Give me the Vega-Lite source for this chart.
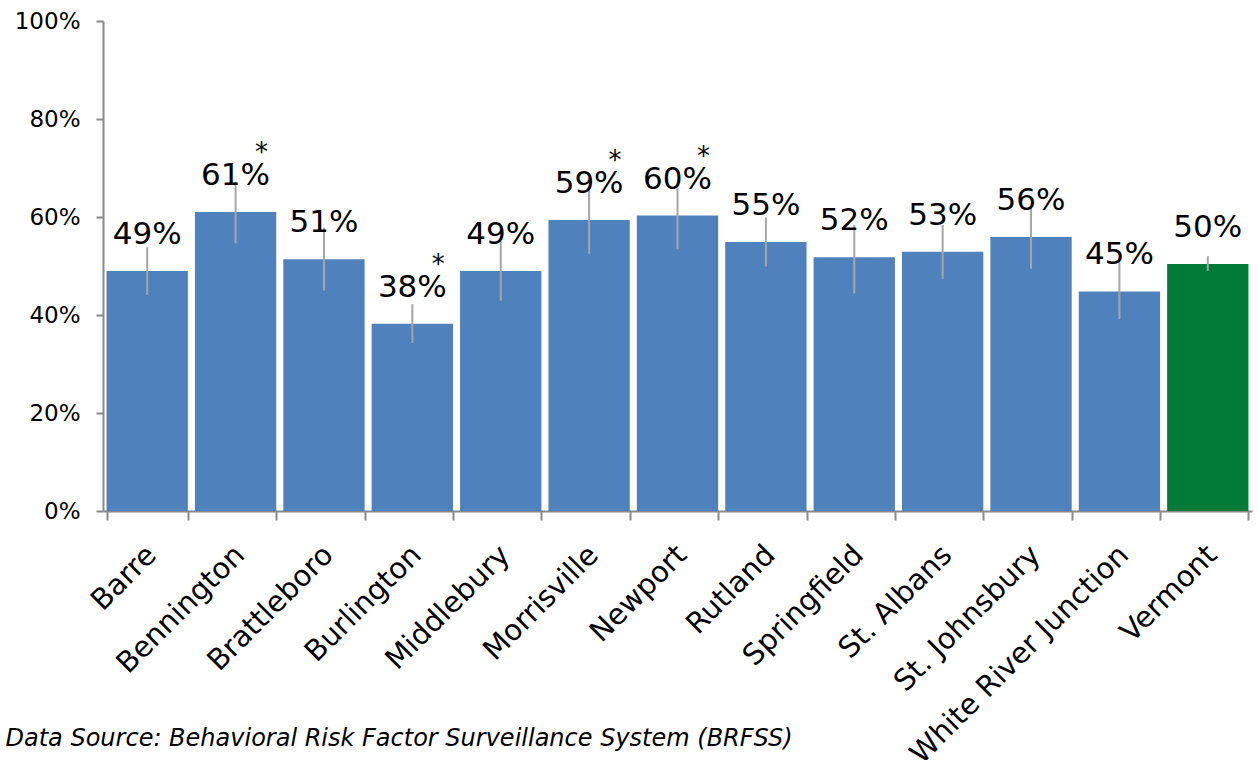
{
  "$schema": "https://vega.github.io/schema/vega-lite/v6.json",
  "width": 1149,
  "height": 490,
  "autosize": {"type": "none"},
  "padding": {"left": 103, "top": 21, "right": 5, "bottom": 249},
  "background": "white",
  "config": {"view": {"stroke": null}, "font": "DejaVu Sans"},
  "data": {
    "values": [
      {"city": "Barre", "value": 0.490, "lo": 0.441, "hi": 0.538, "star": "", "group": "region"},
      {"city": "Bennington", "value": 0.610, "lo": 0.546, "hi": 0.672, "star": "*", "group": "region"},
      {"city": "Brattleboro", "value": 0.514, "lo": 0.450, "hi": 0.578, "star": "", "group": "region"},
      {"city": "Burlington", "value": 0.382, "lo": 0.343, "hi": 0.422, "star": "*", "group": "region"},
      {"city": "Middlebury", "value": 0.490, "lo": 0.429, "hi": 0.551, "star": "", "group": "region"},
      {"city": "Morrisville", "value": 0.594, "lo": 0.525, "hi": 0.661, "star": "*", "group": "region"},
      {"city": "Newport", "value": 0.603, "lo": 0.534, "hi": 0.659, "star": "*", "group": "region"},
      {"city": "Rutland", "value": 0.549, "lo": 0.499, "hi": 0.599, "star": "", "group": "region"},
      {"city": "Springfield", "value": 0.518, "lo": 0.444, "hi": 0.584, "star": "", "group": "region"},
      {"city": "St. Albans", "value": 0.529, "lo": 0.474, "hi": 0.584, "star": "", "group": "region"},
      {"city": "St. Johnsbury", "value": 0.559, "lo": 0.494, "hi": 0.620, "star": "", "group": "region"},
      {"city": "White River Junction", "value": 0.448, "lo": 0.392, "hi": 0.509, "star": "", "group": "region"},
      {"city": "Vermont", "value": 0.504, "lo": 0.490, "hi": 0.520, "star": "", "group": "state"}
    ]
  },
  "encoding": {
    "x": {
      "field": "city",
      "type": "nominal",
      "sort": null,
      "scale": {"paddingInner": 0.08, "paddingOuter": 0.04},
      "axis": {
        "title": "Data Source: Behavioral Risk Factor Surveillance System (BRFSS)",
        "titleX": -98,
        "titleY": 227,
        "titleAlign": "left",
        "titleAnchor": "start",
        "titleBaseline": "middle",
        "titleFontStyle": "italic",
        "titleFontWeight": "normal",
        "titleFontSize": 24,
        "titleColor": "black",
        "domainColor": "#898989",
        "domainWidth": 2,
        "tickColor": "#898989",
        "tickWidth": 2,
        "tickSize": 9,
        "tickBand": "extent",
        "labelAngle": -45,
        "labelFontSize": 29,
        "labelColor": "black",
        "labelPadding": 20,
        "labelOffset": -6,
        "labelLimit": 0
      }
    }
  },
  "layer": [
    {
      "mark": {"type": "bar"},
      "encoding": {
        "y": {
          "field": "value",
          "type": "quantitative",
          "scale": {"domain": [0, 1]},
          "axis": {
            "title": null,
            "values": [0, 0.2, 0.4, 0.6, 0.8, 1],
            "format": ".0%",
            "grid": false,
            "domainColor": "#898989",
            "domainWidth": 2,
            "tickColor": "#898989",
            "tickWidth": 2,
            "tickSize": 7,
            "labelPadding": 16,
            "labelFontSize": 23,
            "labelColor": "black"
          }
        },
        "color": {
          "field": "group",
          "type": "nominal",
          "scale": {"domain": ["region", "state"], "range": ["#4F81BD", "#007A37"]},
          "legend": null
        }
      }
    },
    {
      "mark": {"type": "rule", "color": "#A6A6A6", "strokeWidth": 2},
      "encoding": {
        "y": {"field": "lo", "type": "quantitative"},
        "y2": {"field": "hi"}
      }
    },
    {
      "mark": {"type": "text", "dy": -27, "baseline": "alphabetic", "fontSize": 31, "color": "black"},
      "encoding": {
        "y": {"field": "value", "type": "quantitative"},
        "text": {"field": "value", "type": "quantitative", "format": ".0%"}
      }
    },
    {
      "transform": [{"filter": "datum.star == '*'"}],
      "mark": {"type": "text", "dx": 26, "dy": -51, "baseline": "alphabetic", "fontSize": 26, "color": "black"},
      "encoding": {
        "y": {"field": "value", "type": "quantitative"},
        "text": {"field": "star"}
      }
    }
  ]
}
